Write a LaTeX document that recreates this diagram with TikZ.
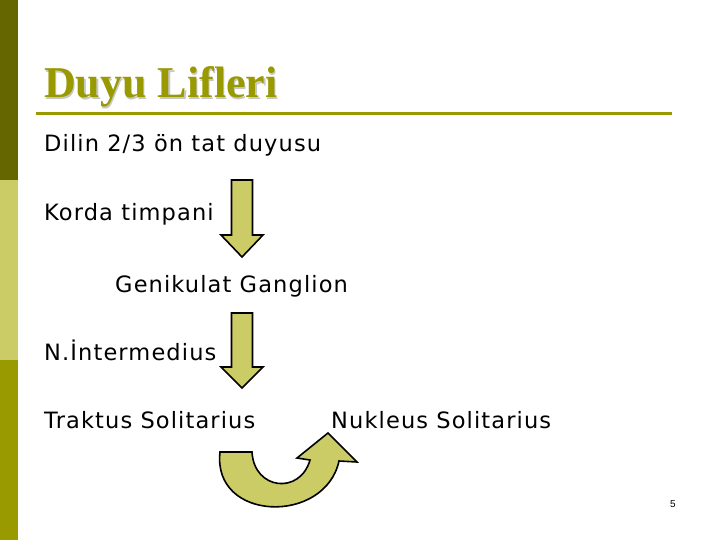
\documentclass[tikz,border=0pt]{standalone}
\usepackage{xcolor}
\usepackage{fontspec}
\setmainfont[LetterSpace=5]{DejaVu Sans}
\newfontfamily\titlefont{Liberation Serif}
\newfontfamily\numfont{Liberation Sans}
\usepackage{tikz}

\definecolor{darkbar}{HTML}{666600}
\definecolor{lightbar}{HTML}{CCCC66}
\definecolor{duyuolive}{HTML}{999900}

\tikzset{
  satir/.style={anchor=base west, inner sep=0pt, font=\fontsize{22.5}{22.5}\selectfont},
  blok/.style={fill=lightbar, draw=black, line width=1.6pt, line join=miter}
}

% down block arrow: center x, top, neck, tip
\newcommand{\asagiok}[4]{%
  \draw[blok] ({#1-10.5},#2) -- ({#1+10.5},#2) -- ({#1+10.5},#3) -- ({#1+21},#3)
    -- (#1,#4) -- ({#1-21},#3) -- ({#1-10.5},#3) -- cycle;}

\begin{document}
\begin{tikzpicture}[x=1pt,y=-1pt]
        \useasboundingbox (0,0) rectangle (720,540);
        % left bar %
        \fill[darkbar] (0,0) rectangle (18,180);
        \fill[lightbar] (0,180) rectangle (18,360);
        \fill[duyuolive] (0,360) rectangle (18,540);

        % title %
        \node[anchor=base west, inner sep=0pt, text=black!22, font=\titlefont\bfseries\fontsize{44}{44}\selectfont] (golge) at (45.5,99.5) {Duyu Lifleri};
        \node[anchor=base west, inner sep=0pt, text=duyuolive, font=\titlefont\bfseries\fontsize{44}{44}\selectfont] (baslik) at (44,98) {Duyu Lifleri};
        \coordinate (cizgiA) at (36,114);
        \coordinate (cizgiB) at (672,114);
        \draw[duyuolive, line width=3pt] (cizgiA) -- (cizgiB);

        % text lines %
        \node[satir] (dilin) at (44,152) {Dilin 2/3 ön tat duyusu};
        \node[satir] (korda) at (44,221) {Korda timpani};
        \node[satir] (genikulat) at (115,292) {Genikulat Ganglion};
        \node[satir] (intermedius) at (44,360) {N.İntermedius};
        \node[satir] (traktus) at (44,428) {Traktus Solitarius};
        \node[satir] (nukleus) at (331,428) {Nukleus Solitarius};

        % arrows %
        \asagiok{242}{180}{235}{257}
        \asagiok{242}{313}{367}{388}
        \draw[blok] (220,452) -- (252,452) .. controls (254,490) and (300,495) .. (310,460)
          -- (297,458) -- (328,433) -- (357,462) -- (339,461)
          .. controls (325,525) and (212,522) .. (220,452) -- cycle;

        \node[anchor=base, inner sep=0pt, font=\numfont\fontsize{10}{10}\selectfont] (sayfa) at (673,507) {5};
\end{tikzpicture}
\end{document}
